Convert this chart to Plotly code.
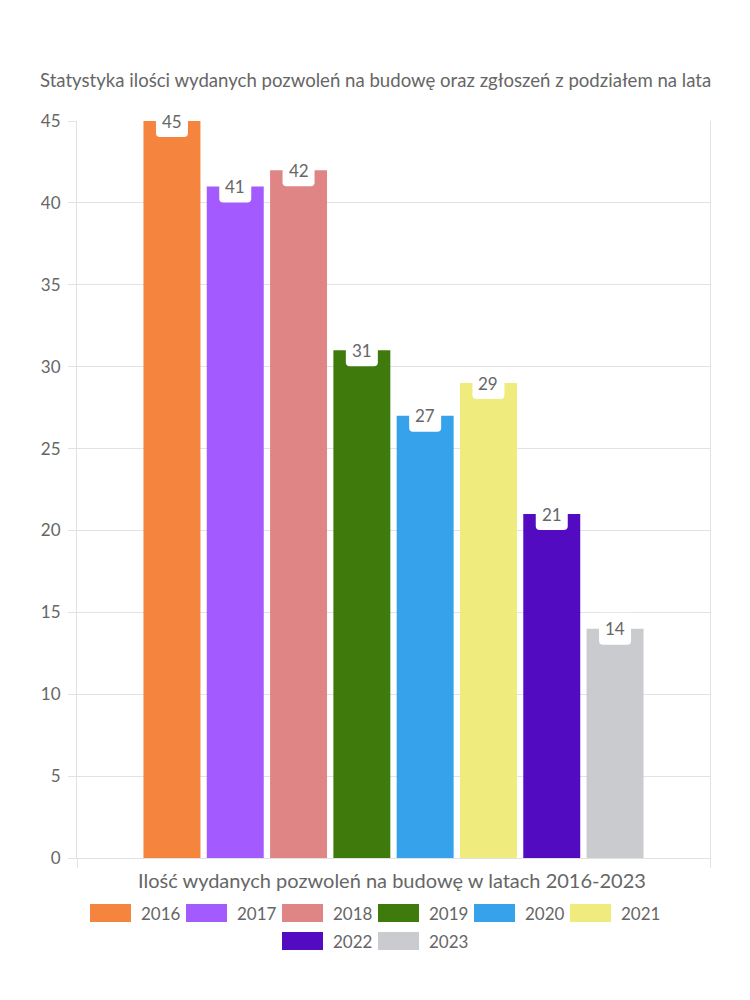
import plotly.graph_objects as go

years = ["2016", "2017", "2018", "2019", "2020", "2021", "2022", "2023"]
values = [45, 41, 42, 31, 27, 29, 21, 14]
colors = ["#F5843F", "#A35BFF", "#E08585", "#3E7B0C", "#36A2EB", "#F0EB7D", "#520BC1", "#C9CBCF"]
y_ticks = [0, 5, 10, 15, 20, 25, 30, 35, 40, 45]

title_text = "Statystyka ilości wydanych pozwoleń na budowę oraz zgłoszeń z podziałem na lata"
x_title = "Ilość wydanych pozwoleń na budowę w latach 2016-2023"

FONT = "Lato"
TXT = "#666666"
GRID = "#E2E2E2"

W, H = 750, 1000
ML, MR, MT, MB = 77, 40, 121, 142
PW, PH = W - ML - MR, H - MT - MB

BARGAP = 0.2
GROUPGAP = 0.1
n = len(years)

fig = go.Figure()
for yr, v, c in zip(years, values, colors):
    fig.add_trace(go.Bar(x=[0], y=[v], name=yr, marker=dict(color=c, line=dict(width=0)),
                         showlegend=False, hoverinfo="y+name"))

# bar label boxes (computed from group layout)
slot = (1 - BARGAP) / n
shapes = []
annotations = []
for i, v in enumerate(values):
    xc = -0.5 + BARGAP / 2 + slot * (i + 0.5)
    w, top, bot, r = 16, 16, -16, 4
    path = (f"M {-w},{top} L {w},{top} L {w},{bot + r} Q {w},{bot} {w - r},{bot} "
            f"L {-w + r},{bot} Q {-w},{bot} {-w},{bot + r} Z")
    shapes.append(dict(type="path", xref="x", yref="y", xsizemode="pixel", ysizemode="pixel",
                       xanchor=xc, yanchor=v, path=path, fillcolor="white",
                       line=dict(width=0), layer="above"))
    annotations.append(dict(x=xc, y=v, xref="x", yref="y", text=str(v), showarrow=False,
                            yanchor="middle", yshift=0,
                            font=dict(family=FONT, size=17, color=TXT)))

# manual legend: rows centered on page
def px2paper(px, py):
    return (px - ML) / PW, (H - MB - py) / PH

rows = [list(range(0, 6)), list(range(6, 8))]
row_y = [913, 941]
item_w = 96
box_w, box_h = 41, 18
for r_i, row in enumerate(rows):
    total = len(row) * item_w - 10
    start = W / 2 - total / 2 - 2
    for k, idx in enumerate(row):
        bx0 = start + k * item_w
        x0, y0 = px2paper(bx0, row_y[r_i] + box_h / 2)
        x1, y1 = px2paper(bx0 + box_w, row_y[r_i] - box_h / 2)
        shapes.append(dict(type="rect", xref="paper", yref="paper", x0=x0, x1=x1, y0=y0, y1=y1,
                           fillcolor=colors[idx], line=dict(width=0)))
        tx, ty = px2paper(bx0 + box_w + 8, row_y[r_i])
        annotations.append(dict(x=tx, y=ty, xref="paper", yref="paper", text=years[idx],
                                showarrow=False, xanchor="left", yanchor="middle",
                                font=dict(family=FONT, size=17, color=TXT)))

# title and x axis title
tx, ty = px2paper(W / 2, 80)
annotations.append(dict(x=tx, y=ty, xref="paper", yref="paper", text=title_text, showarrow=False,
                        xanchor="center", yanchor="middle", font=dict(family=FONT, size=18.6, color=TXT)))
tx, ty = px2paper(W / 2 + 17, 880)
annotations.append(dict(x=tx, y=ty, xref="paper", yref="paper", text=x_title, showarrow=False,
                        xanchor="center", yanchor="middle", font=dict(family=FONT, size=20, color=TXT)))

fig.update_layout(
    width=W, height=H,
    margin=dict(l=ML, r=MR, t=MT, b=MB),
    paper_bgcolor="white", plot_bgcolor="white",
    barmode="group", bargap=BARGAP, bargroupgap=GROUPGAP,
    showlegend=False,
    font=dict(family=FONT, color=TXT),
    shapes=shapes, annotations=annotations,
    xaxis=dict(range=[-0.5, 0.5], tickvals=[-0.5, 0.5], showticklabels=False, ticks="outside",
               ticklen=9, tickcolor=GRID, showgrid=False, zeroline=False,
               showline=True, linecolor=GRID, mirror=False, fixedrange=True),
    yaxis=dict(range=[0, 45], tickvals=y_ticks, ticks="outside", ticklen=8, tickcolor=GRID,
               gridcolor=GRID, showline=True, linecolor=GRID, mirror=True, zeroline=False,
               tickfont=dict(family=FONT, size=17, color=TXT), ticklabelstandoff=4),
)

fig.write_html("out.html")
